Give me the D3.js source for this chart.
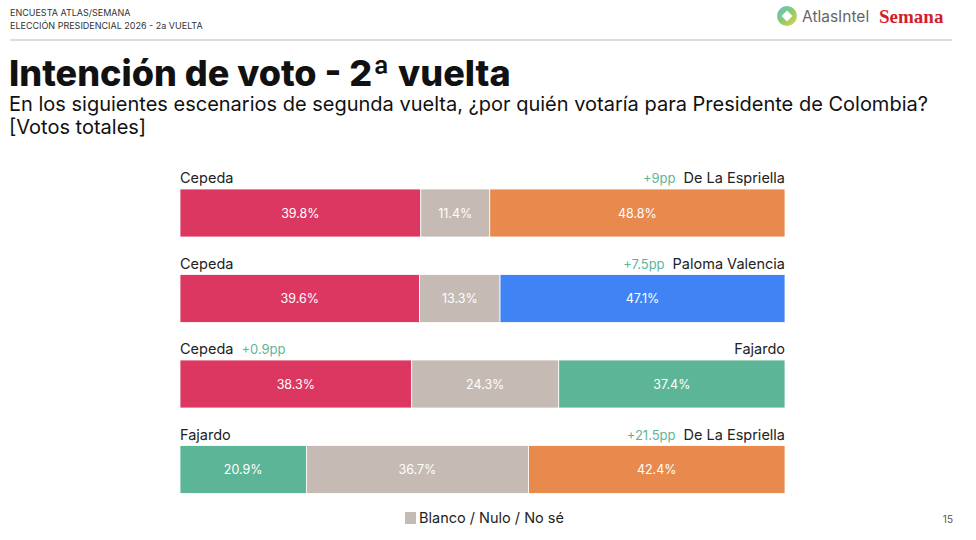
<!DOCTYPE html>
<html><head><meta charset="utf-8">
<script src="https://cdn.jsdelivr.net/npm/d3@7"></script>
<style>body{margin:0;background:#fff;} svg{display:block;}</style>
</head><body>
<svg id="c" width="976" height="540"></svg>
<script>
const leftNames = ["Cepeda","Cepeda","Cepeda","Fajardo"];
const rightNames = ["De La Espriella","Paloma Valencia","Fajardo","De La Espriella"];
const leftValues = [39.8,39.6,38.3,20.9];
const blankValues = [11.4,13.3,24.3,36.7];
const rightValues = [48.8,47.1,37.4,42.4];
const leadLabels = ["+9pp","+7.5pp","+0.9pp","+21.5pp"];
const leadSide = ["right","right","left","right"];
const leftColors = ["#DB3760","#DB3760","#DB3760","#5DB597"];
const rightColors = ["#E8894E","#3F83F5","#5DB597","#E8894E"];
const blankColor = "#C5BAB4";

const svg = d3.select("#c");
const font = "Inter, 'Noto Sans', sans-serif";

// header
svg.append("text").attr("x",10).attr("y",16).attr("font-family",font).attr("font-size",9).attr("fill","#333").text("ENCUESTA ATLAS/SEMANA");
svg.append("text").attr("x",10).attr("y",29).attr("font-family",font).attr("font-size",9).attr("fill","#333").text("ELECCIÓN PRESIDENCIAL 2026 - 2a VUELTA");
svg.append("line").attr("x1",10).attr("x2",952).attr("y1",40).attr("y2",40).attr("stroke","#bbb").attr("stroke-width",1);

// AtlasIntel logo
const lg = svg.append("g").attr("transform","translate(787,16)");
const defs = svg.append("defs");
const grad = defs.append("linearGradient").attr("id","ag").attr("x1","0").attr("y1","0").attr("x2","1").attr("y2","1");
grad.append("stop").attr("offset","0").attr("stop-color","#5BC0DE");
grad.append("stop").attr("offset","0.5").attr("stop-color","#8CCB6A");
grad.append("stop").attr("offset","1").attr("stop-color","#E6D34A");
lg.append("circle").attr("r",10).attr("fill","url(#ag)");
lg.append("path").attr("d","M0,-5.5 L5.5,0 L0,5.5 L-5.5,0 Z").attr("fill","#fff");
svg.append("text").attr("x",802).attr("y",22).attr("font-family",font).attr("font-size",15.5).attr("fill","#666").text("AtlasIntel");
svg.append("text").attr("x",879).attr("y",23).attr("font-family","'Liberation Serif', 'DejaVu Serif', serif").attr("font-weight","bold").attr("font-size",19).attr("fill","#D21E2B").text("Semana");

// title
svg.append("text").attr("x",9).attr("y",86).attr("font-family",font).attr("font-weight",800).attr("font-size",36).attr("fill","#111").text("Intención de voto - 2ª vuelta");
svg.append("text").attr("x",9).attr("y",111).attr("font-family",font).attr("font-size",20).attr("fill","#111").text("En los siguientes escenarios de segunda vuelta, ¿por quién votaría para Presidente de Colombia?");
svg.append("text").attr("x",9).attr("y",134).attr("font-family",font).attr("font-size",20).attr("fill","#111").text("[Votos totales]");

// chart
const x = d3.scaleLinear().domain([0,100]).range([180,785]);
const barH = 48;
const rowY = i => 189 + i*85.5;

d3.range(4).forEach(i=>{
  const g = svg.append("g");
  const y0 = rowY(i);
  const segs = [
    {s:0,v:leftValues[i],c:leftColors[i]},
    {s:leftValues[i],v:blankValues[i],c:blankColor},
    {s:leftValues[i]+blankValues[i],v:rightValues[i],c:rightColors[i]}
  ];
  segs.forEach(d=>{
    g.append("rect").attr("x",x(d.s)).attr("y",y0).attr("width",x(d.s+d.v)-x(d.s)).attr("height",barH).attr("fill",d.c).attr("stroke","#fff").attr("stroke-width",0.8);
    g.append("text").attr("x",(x(d.s)+x(d.s+d.v))/2).attr("y",y0+barH/2+4.5).attr("text-anchor","middle")
      .attr("font-family",font).attr("font-size",12.5).attr("fill","#fff").text(d.v.toFixed(1)+"%");
  });
  const ly = y0-6;
  const lt = g.append("text").attr("x",180).attr("y",ly).attr("font-family",font).attr("font-size",14.5).attr("fill","#222").text(leftNames[i]);
  const rt = g.append("text").attr("x",785).attr("y",ly).attr("text-anchor","end").attr("font-family",font).attr("font-size",14.5).attr("fill","#222").text(rightNames[i]);
  if(leadSide[i]==="right"){
    const w = rt.node().getComputedTextLength();
    g.append("text").attr("x",785-w-8).attr("y",ly).attr("text-anchor","end").attr("font-family",font).attr("font-size",13).attr("fill","#5DB597").text(leadLabels[i]);
  } else {
    const w = lt.node().getComputedTextLength();
    g.append("text").attr("x",180+w+8).attr("y",ly).attr("font-family",font).attr("font-size",13).attr("fill","#5DB597").text(leadLabels[i]);
  }
});

// legend
svg.append("rect").attr("x",405).attr("y",512).attr("width",11).attr("height",12).attr("fill",blankColor);
svg.append("text").attr("x",419).attr("y",523).attr("font-family",font).attr("font-size",14.5).attr("fill","#222").text("Blanco / Nulo / No sé");
svg.append("text").attr("x",953).attr("y",523).attr("text-anchor","end").attr("font-family",font).attr("font-size",10).attr("fill","#555").text("15");
</script>
</body></html>
